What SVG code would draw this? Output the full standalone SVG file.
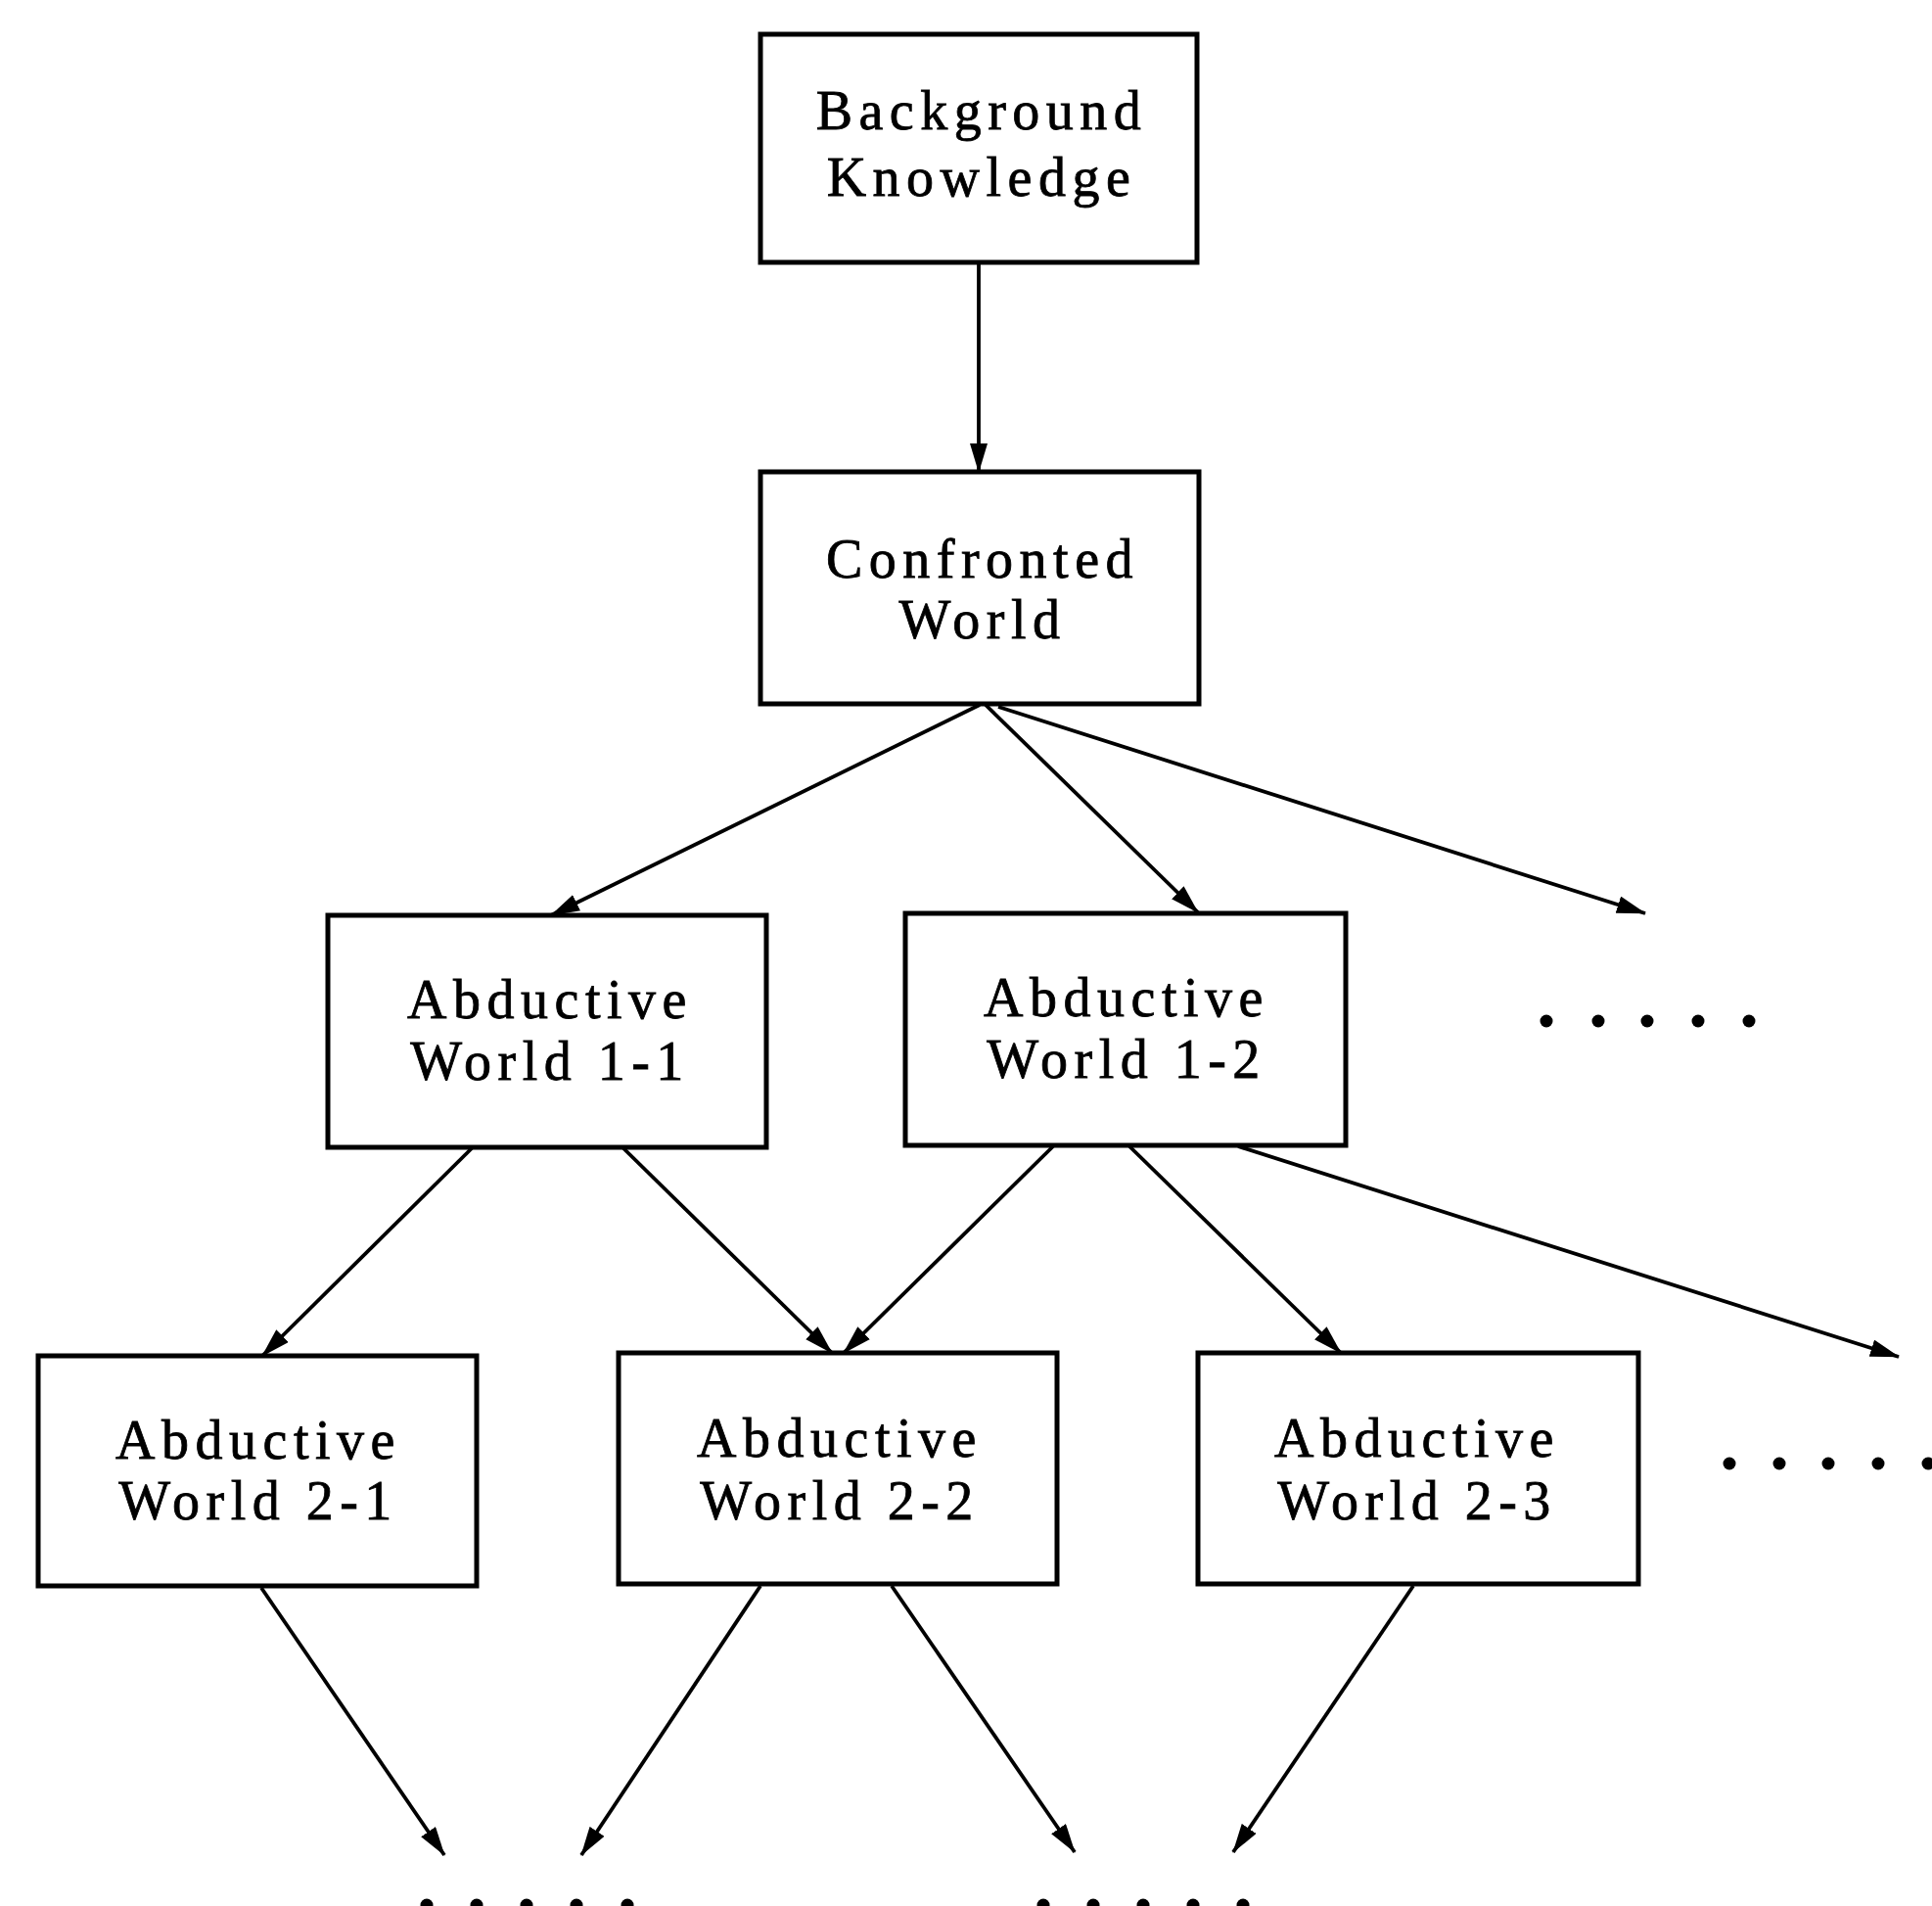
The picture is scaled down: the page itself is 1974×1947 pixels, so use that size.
<svg xmlns="http://www.w3.org/2000/svg" width="1974" height="1947" viewBox="0 0 1974 1947">
<style>
.box{fill:#fff;stroke:#000;stroke-width:5}
.lbl{font-family:"Liberation Serif","Times New Roman",serif;font-size:56px;letter-spacing:6.5px;text-anchor:middle;fill:#000;stroke:#000;stroke-width:0.8}
.edge{stroke:#000;stroke-width:3.8;fill:none;marker-end:url(#ah)}
.dot{fill:#000}
</style>
<defs>
<marker id="ah" viewBox="0 0 30 18" refX="29" refY="9" markerWidth="30" markerHeight="18" markerUnits="userSpaceOnUse" orient="auto">
<path d="M0,0 L30,9 L0,18 Z" fill="#000"/>
</marker>
</defs>
<rect width="1974" height="1947" fill="#fff"/>
<g id="connectors">
<line class="edge" x1="1000" y1="268" x2="1000" y2="482"/>
<line class="edge" x1="1001" y1="720" x2="563" y2="935"/>
<line class="edge" x1="1007" y1="720" x2="1224" y2="932"/>
<line class="edge" x1="1020" y1="722" x2="1681" y2="933"/>
<line class="edge" x1="482" y1="1173" x2="268" y2="1385"/>
<line class="edge" x1="637" y1="1173" x2="850" y2="1382"/>
<line class="edge" x1="1076" y1="1171" x2="862" y2="1382"/>
<line class="edge" x1="1154" y1="1171" x2="1370" y2="1382"/>
<line class="edge" x1="1265" y1="1171" x2="1940" y2="1386"/>
<line class="edge" x1="267" y1="1622" x2="454" y2="1895"/>
<line class="edge" x1="777" y1="1620" x2="594" y2="1895"/>
<line class="edge" x1="911" y1="1620" x2="1098" y2="1892"/>
<line class="edge" x1="1444" y1="1620" x2="1260" y2="1892"/>
</g>
<g id="n-background">
<rect class="box" x="777" y="35" width="446" height="233"/>
<text class="lbl" x="1003" y="132">Background</text>
<text class="lbl" x="1003" y="200">Knowledge</text>
</g>
<g id="n-confronted">
<rect class="box" x="777" y="482" width="448" height="237"/>
<text class="lbl" x="1004" y="590">Confronted</text>
<text class="lbl" x="1004" y="652">World</text>
</g>
<g id="n-aw11">
<rect class="box" x="335" y="935" width="448" height="237"/>
<text class="lbl" x="562" y="1040">Abductive</text>
<text class="lbl" x="562" y="1103">World 1-1</text>
</g>
<g id="n-aw12">
<rect class="box" x="925" y="933" width="450" height="237"/>
<text class="lbl" x="1151" y="1038">Abductive</text>
<text class="lbl" x="1151" y="1101">World 1-2</text>
</g>
<g id="n-aw21">
<rect class="box" x="39" y="1385" width="448" height="235"/>
<text class="lbl" x="264" y="1490">Abductive</text>
<text class="lbl" x="264" y="1552">World 2-1</text>
</g>
<g id="n-aw22">
<rect class="box" x="632" y="1382" width="448" height="236"/>
<text class="lbl" x="858" y="1488">Abductive</text>
<text class="lbl" x="858" y="1552">World 2-2</text>
</g>
<g id="n-aw23">
<rect class="box" x="1224" y="1382" width="450" height="236"/>
<text class="lbl" x="1448" y="1488">Abductive</text>
<text class="lbl" x="1448" y="1552">World 2-3</text>
</g>
<g id="dots">
<circle class="dot" cx="1580" cy="1043" r="6.5"/>
<circle class="dot" cx="1633" cy="1043" r="6.5"/>
<circle class="dot" cx="1683" cy="1043" r="6.5"/>
<circle class="dot" cx="1735" cy="1043" r="6.5"/>
<circle class="dot" cx="1787" cy="1043" r="6.5"/>
<circle class="dot" cx="1767" cy="1495" r="6.5"/>
<circle class="dot" cx="1818" cy="1495" r="6.5"/>
<circle class="dot" cx="1868" cy="1495" r="6.5"/>
<circle class="dot" cx="1919" cy="1495" r="6.5"/>
<circle class="dot" cx="1970" cy="1495" r="6.5"/>
<circle class="dot" cx="436" cy="1946" r="6.5"/>
<circle class="dot" cx="487" cy="1946" r="6.5"/>
<circle class="dot" cx="538" cy="1946" r="6.5"/>
<circle class="dot" cx="589" cy="1946" r="6.5"/>
<circle class="dot" cx="641" cy="1946" r="6.5"/>
<circle class="dot" cx="1066" cy="1946" r="6.5"/>
<circle class="dot" cx="1117" cy="1946" r="6.5"/>
<circle class="dot" cx="1168" cy="1946" r="6.5"/>
<circle class="dot" cx="1219" cy="1946" r="6.5"/>
<circle class="dot" cx="1270" cy="1946" r="6.5"/>
</g>
</svg>
